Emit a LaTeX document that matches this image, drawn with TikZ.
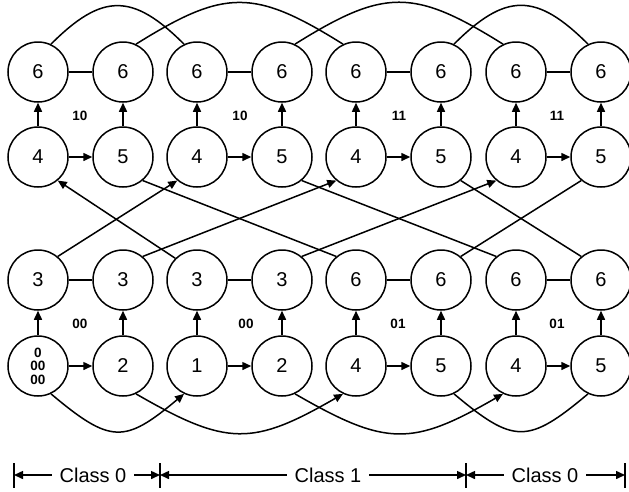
\documentclass[tikz,border=0pt]{standalone}
\usepackage{fontspec}
\setmainfont{Liberation Sans}
\usetikzlibrary{arrows.meta}

\tikzset{
  st/.style={circle,draw,minimum size=60pt,inner sep=0pt,font=\fontsize{20}{24}\selectfont},
  lab/.style={font=\bfseries\fontsize{13.5}{13.5}\selectfont,align=center},
  cls/.style={font=\fontsize{20}{24}\selectfont,inner sep=7pt},
  arr/.style={-{Triangle[length=9pt,width=8pt]}}
}

\begin{document}
\begin{tikzpicture}[x=1pt,y=1pt,line width=1.5pt]
\useasboundingbox (0,0) rectangle (629,-491);
% top row
\node[st] (a1) at (38,-72) {6};
\node[st] (a2) at (123,-72) {6};
\node[st] (a3) at (197,-72) {6};
\node[st] (a4) at (282,-72) {6};
\node[st] (a5) at (356,-72) {6};
\node[st] (a6) at (441,-72) {6};
\node[st] (a7) at (516,-72) {6};
\node[st] (a8) at (601,-72) {6};
% second row
\node[st] (b1) at (38,-157) {4};
\node[st] (b2) at (123,-157) {5};
\node[st] (b3) at (197,-157) {4};
\node[st] (b4) at (282,-157) {5};
\node[st] (b5) at (356,-157) {4};
\node[st] (b6) at (441,-157) {5};
\node[st] (b7) at (516,-157) {4};
\node[st] (b8) at (601,-157) {5};
% third row
\node[st] (c1) at (38,-280) {3};
\node[st] (c2) at (123,-280) {3};
\node[st] (c3) at (197,-280) {3};
\node[st] (c4) at (282,-280) {3};
\node[st] (c5) at (356,-280) {6};
\node[st] (c6) at (441,-280) {6};
\node[st] (c7) at (516,-280) {6};
\node[st] (c8) at (601,-280) {6};
% bottom row
\node[st,lab] (d1) at (38,-366) {0\\00\\00};
\node[st] (d2) at (123,-366) {2};
\node[st] (d3) at (197,-366) {1};
\node[st] (d4) at (282,-366) {2};
\node[st] (d5) at (356,-366) {4};
\node[st] (d6) at (441,-366) {5};
\node[st] (d7) at (516,-366) {4};
\node[st] (d8) at (601,-366) {5};
% small labels
\node[lab] (l1) at (80,-116) {10};
\node[lab] (l2) at (240,-116) {10};
\node[lab] (l3) at (399,-116) {11};
\node[lab] (l4) at (557,-116) {11};
\node[lab] (l5) at (80,-324) {00};
\node[lab] (l6) at (246,-324) {00};
\node[lab] (l7) at (398,-324) {01};
\node[lab] (l8) at (557,-324) {01};

% horizontal links
\draw (a1) -- (a2);
\draw (a3) -- (a4);
\draw (a5) -- (a6);
\draw (a7) -- (a8);
\draw[arr] (b1) -- (b2);
\draw[arr] (b3) -- (b4);
\draw[arr] (b5) -- (b6);
\draw[arr] (b7) -- (b8);
\draw (c1) -- (c2);
\draw (c3) -- (c4);
\draw (c5) -- (c6);
\draw (c7) -- (c8);
\draw[arr] (d1) -- (d2);
\draw[arr] (d3) -- (d4);
\draw[arr] (d5) -- (d6);
\draw[arr] (d7) -- (d8);

% vertical links
\draw[arr] (b1) -- (a1);
\draw[arr] (b2) -- (a2);
\draw[arr] (b3) -- (a3);
\draw[arr] (b4) -- (a4);
\draw[arr] (b5) -- (a5);
\draw[arr] (b6) -- (a6);
\draw[arr] (b7) -- (a7);
\draw[arr] (b8) -- (a8);
\draw[arr] (d1) -- (c1);
\draw[arr] (d2) -- (c2);
\draw[arr] (d3) -- (c3);
\draw[arr] (d4) -- (c4);
\draw[arr] (d5) -- (c5);
\draw[arr] (d6) -- (c6);
\draw[arr] (d7) -- (c7);
\draw[arr] (d8) -- (c8);

% crossing links
\draw[arr] (c3.135) -- (b1.-50);
\draw[arr] (c1.50) -- (b3.-130);
\draw (b2.-50) -- (c5.130);
\draw[arr] (c2.50) -- (b5.-130);
\draw (b4.-50) -- (c7.130);
\draw[arr] (c4.50) -- (b7.-130);
\draw (b6.-50) -- (c8.130);
\draw (c6.50) -- (b8.-130);

% curves on top
\draw (a1.65) to[out=45,in=135,looseness=1.4] (a3.115);
\draw (a2.65) to[out=32,in=148,looseness=1.3] (a5.115);
\draw (a4.65) to[out=32,in=148,looseness=1.3] (a7.115);
\draw (a6.65) to[out=45,in=135,looseness=1.4] (a8.115);

% curves below
\draw[arr] (d1.-65) to[out=-40,in=-140,looseness=1.5] (d3.-115);
\draw[arr] (d2.-65) to[out=-30,in=-150,looseness=1.3] (d5.-115);
\draw[arr] (d4.-65) to[out=-30,in=-150,looseness=1.3] (d7.-115);
\draw (d6.-65) to[out=-40,in=-140,looseness=1.5] (d8.-115);

% class bar
\draw (14,-463) -- (14,-488);
\draw (160,-463) -- (160,-488);
\draw (466,-463) -- (466,-488);
\draw (625,-463) -- (625,-488);
\coordinate (m1) at (14,-475);
\coordinate (m2) at (160,-475);
\coordinate (m3) at (466,-475);
\coordinate (m4) at (625,-475);
\node[cls] (k1) at (93,-475) {Class 0};
\node[cls] (k2) at (328,-475) {Class 1};
\node[cls] (k3) at (545,-475) {Class 0};
\draw[arr] (k1.west) -- (m1);
\draw[arr] (k1.east) -- (m2);
\draw[arr] (k2.west) -- (m2);
\draw[arr] (k2.east) -- (m3);
\draw[arr] (k3.west) -- (m3);
\draw[arr] (k3.east) -- (m4);
\end{tikzpicture}
\end{document}
